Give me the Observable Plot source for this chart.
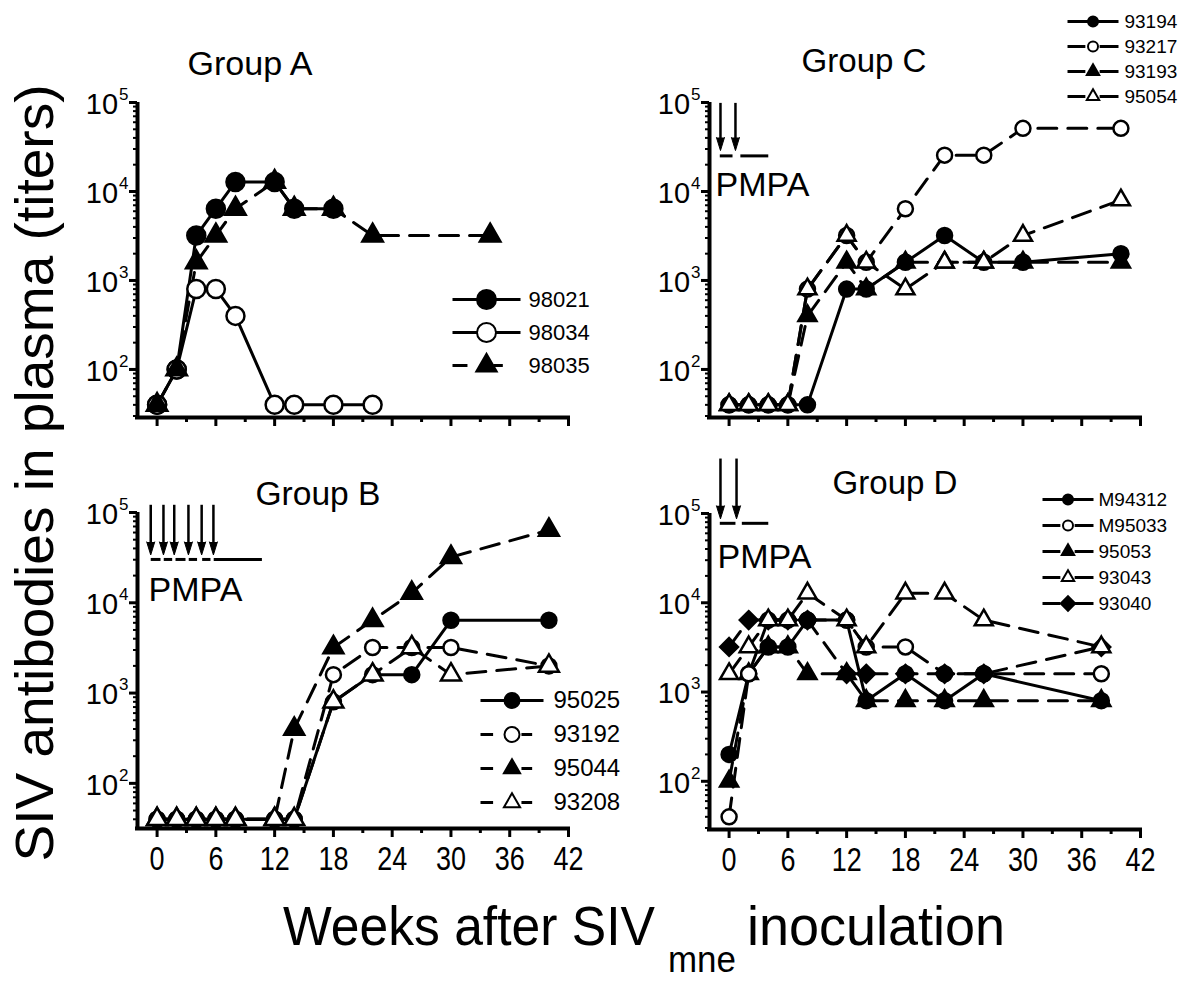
<!DOCTYPE html>
<html><head><meta charset="utf-8">
<script src="https://cdn.jsdelivr.net/npm/d3@7"></script>
<script src="https://cdn.jsdelivr.net/npm/@observablehq/plot@0.6"></script>
<style>
body{margin:0;background:#fff;}
#root{position:relative;width:1200px;height:982px;overflow:hidden;background:#fff;}
#root svg{position:absolute;overflow:visible;}
</style></head><body><div id="root"></div>
<script>
// ---------------- DATA ----------------
const majorWeeks = [0, 6, 12, 18, 24, 30, 36, 42];
const minorWeeks = [3, 9, 15, 21, 27, 33, 39];
const decadeTicks = [1e2, 1e3, 1e4, 1e5];
const minorMultipliers = [2, 3, 4, 5, 6, 7, 8, 9];
const decades = [10, 100, 1000, 10000];

// Group A
const wA98021 = [0, 2, 4, 6, 8, 12, 14, 18];
const tA98021 = [40, 100, 3200, 6400, 12800, 12800, 6400, 6400];
const wA98034 = [0, 2, 4, 6, 8, 12, 14, 18, 22];
const tA98034 = [40, 100, 800, 800, 400, 40, 40, 40, 40];
const wA98035 = [0, 2, 4, 6, 8, 12, 14, 18, 22, 34];
const tA98035 = [40, 100, 1600, 3200, 6400, 12800, 6400, 6400, 3200, 3200];

// Group B
const wB = [0, 2, 4, 6, 8, 12, 14, 18, 22, 26, 30, 40];
const tB95025 = [40, 40, 40, 40, 40, 40, 40, 800, 1600, 1600, 6400, 6400];
const tB93192 = [40, 40, 40, 40, 40, 40, 40, 1600, 3200, 3200, 3200, 2000];
const tB95044 = [40, 40, 40, 40, 40, 40, 400, 3200, 6400, 12800, 32000, 64000];
const tB93208 = [40, 40, 40, 40, 40, 40, 40, 800, 1600, 3200, 1600, 2000];

// Group C
const wC = [0, 2, 4, 6, 8, 12, 14, 18, 22, 26, 30, 40];
const tC93194 = [40, 40, 40, 40, 40, 800, 800, 1600, 3200, 1600, 1600, 2000];
const tC93217 = [40, 40, 40, 40, 800, 3200, 1600, 6400, 25600, 25600, 51200, 51200];
const tC93193 = [40, 40, 40, 40, 400, 1600, 800, 1600, 1600, 1600, 1600, 1600];
const tC95054 = [40, 40, 40, 40, 800, 3200, 1600, 800, 1600, 1600, 3200, 8000];

// Group D
const wD = [0, 2, 4, 6, 8, 12, 14, 18, 22, 26, 38];
const tDM94312 = [200, 1600, 3200, 3200, 6400, 6400, 800, 1600, 800, 1600, 800];
const tDM95033 = [40, 1600, 6400, 6400, 6400, 6400, 3200, 3200, 1600, 1600, 1600];
const tD95053 = [100, 1600, 3200, 3200, 1600, 1600, 800, 800, 800, 800, 800];
const tD93043 = [1600, 3200, 6400, 6400, 12800, 6400, 3200, 12800, 12800, 6400, 3200];
const tD93040 = [3200, 6400, 6400, 6400, 6400, 1600, 1600, 1600, 1600, 1600, 3200];

// PMPA annotations (weeks, titer levels)
const pmpaArrowsB = [-0.65, 0.65, 1.75, 3.2, 4.55, 5.75];
const pmpaSegsB = [[-0.65, 0.35], [0.68, 1.54], [1.88, 2.9], [3.23, 4.08], [4.6, 5.45], [5.78, 10.7]];
const pmpaArrowsC = [-0.88, 0.65];
const pmpaSegsC = [[-0.95, 0.35], [1.15, 4.0]];
const pmpaArrowsD = [-0.88, 0.76];
const pmpaSegsD = [[-0.95, 0.65], [1.3, 4.0]];

// ---------------- STYLE / LAYOUT ----------------
const FONT = '"Liberation Sans", Arial, Helvetica, sans-serif';
const xDomain = [-2, 42];
const root = document.getElementById("root");

function mk(weeks, titers) { return weeks.map((w, i) => ({w, v: titers[i]})); }

const panels = [
  {
    id: "A", box: {left: 0, top: 0, width: 600, height: 440, mL: 137, mT: 102, mR: 32, mB: 23},
    yMin: Math.pow(10, 1.46), xLabels: false,
    series: [
      {name: "98021", data: mk(wA98021, tA98021), symbol: "circle", open: false, dashed: false, r: 9},
      {name: "98034", data: mk(wA98034, tA98034), symbol: "circle", open: true, dashed: false, r: 9},
      {name: "98035", data: mk(wA98035, tA98035), symbol: "triangle", open: false, dashed: true, r: 7.6}
    ],
    legend: {left: 452, top: 281.5, rowH: 33, lineLen: 68, font: 22, gap: 8, segs: [[0, 0.22], [0.6, 0.74]],
      r: {circle: 9.5, triangle: 7.6, diamond2: 8}}
  },
  {
    id: "B", box: {left: 0, top: 440, width: 600, height: 442, mL: 137, mT: 72, mR: 32, mB: 54},
    yMin: Math.pow(10, 1.5), xLabels: true,
    series: [
      {name: "95025", data: mk(wB, tB95025), symbol: "circle", open: false, dashed: false, r: 7.5},
      {name: "93192", data: mk(wB, tB93192), symbol: "circle", open: true, dashed: true, r: 7.5},
      {name: "95044", data: mk(wB, tB95044), symbol: "triangle", open: false, dashed: true, r: 7.4},
      {name: "93208", data: mk(wB, tB93208), symbol: "triangle", open: true, dashed: true, r: 7.4}
    ],
    legend: {left: 480, top: 681.7, rowH: 34.7, lineLen: 63, font: 24, gap: 10, segs: [[0, 0.2], [0.65, 0.82]],
      r: {circle: 7.5, triangle: 6, diamond2: 7}},
    pmpa: {arrows: pmpaArrowsB, top: Math.pow(10, 5.08), tip: Math.pow(10, 4.53), lineY: Math.pow(10, 4.48),
      segs: pmpaSegsB, textX: -0.88, textY: Math.pow(10, 4.14)}
  },
  {
    id: "C", box: {left: 600, top: 0, width: 600, height: 440, mL: 109, mT: 102, mR: 60, mB: 23},
    yMin: Math.pow(10, 1.46), xLabels: false,
    series: [
      {name: "93217", data: mk(wC, tC93217), symbol: "circle", open: true, dashed: true, r: 7.5},
      {name: "93194", data: mk(wC, tC93194), symbol: "circle", open: false, dashed: false, r: 7.5},
      {name: "93193", data: mk(wC, tC93193), symbol: "triangle", open: false, dashed: true, r: 6.7},
      {name: "95054", data: mk(wC, tC95054), symbol: "triangle", open: true, dashed: true, r: 6.7}
    ],
    legendOrder: ["93194", "93217", "93193", "95054"],
    legend: {left: 1067, top: 8.3, rowH: 25.3, lineLen: 51, font: 19, gap: 6, segs: [[0, 0.35], [0.63, 1]],
      r: {circle: 5, triangle: 4.6, diamond2: 6.5}},
    pmpa: {arrows: pmpaArrowsC, top: Math.pow(10, 4.99), tip: Math.pow(10, 4.46), lineY: Math.pow(10, 4.40),
      segs: pmpaSegsC, textX: -1.39, textY: Math.pow(10, 4.07)}
  },
  {
    id: "D", box: {left: 600, top: 440, width: 600, height: 442, mL: 109, mT: 73, mR: 60, mB: 53},
    yMin: Math.pow(10, 1.46), xLabels: true,
    series: [
      {name: "95053", data: mk(wD, tD95053), symbol: "triangle", open: false, dashed: true, r: 6.7},
      {name: "M94312", data: mk(wD, tDM94312), symbol: "circle", open: false, dashed: false, r: 7.5},
      {name: "M95033", data: mk(wD, tDM95033), symbol: "circle", open: true, dashed: true, r: 7.5},
      {name: "93040", data: mk(wD, tD93040), symbol: "diamond2", open: false, dashed: true, r: 8},
      {name: "93043", data: mk(wD, tD93043), symbol: "triangle", open: true, dashed: true, r: 6.7}
    ],
    legendOrder: ["M94312", "M95033", "95053", "93043", "93040"],
    legend: {left: 1042, top: 484.9, rowH: 26.25, lineLen: 51, font: 19, gap: 5, segs: [[0, 0.35], [0.63, 1]],
      r: {circle: 5, triangle: 4.6, diamond2: 6.5}},
    pmpa: {arrows: pmpaArrowsD, top: Math.pow(10, 5.61), tip: Math.pow(10, 4.94), lineY: Math.pow(10, 4.89),
      segs: pmpaSegsD, textX: -1.18, textY: Math.pow(10, 4.515)}
  }
];

function place(svg, left, top) {
  svg.style.left = left + "px";
  svg.style.top = top + "px";
  root.appendChild(svg);
}

function makePanel(p) {
  const b = p.box;
  const minorTiters = minorMultipliers.flatMap(m => decades.map(d => m * d)).filter(v => v >= p.yMin && v <= 1e5);
  const marks = [
    Plot.axisY({ticks: minorTiters, tickSize: 4, strokeWidth: 2, tickFormat: () => "", label: null}),
    Plot.axisY({ticks: decadeTicks, tickSize: 8, strokeWidth: 3, tickFormat: () => "", label: null}),
    Plot.axisY({ticks: decadeTicks, tickSize: 0, tickPadding: 9, fontSize: 29, fontFamily: FONT,
      tickFormat: d => String(Math.round(Math.log10(d))), label: null}),
    Plot.axisX({ticks: minorWeeks, tickSize: 5, strokeWidth: 3, tickFormat: () => "", label: null}),
    Plot.axisX({ticks: majorWeeks, tickSize: 9, strokeWidth: 3, tickPadding: 8, fontSize: 34, fontFamily: FONT,
      tickFormat: p.xLabels ? (d => String(d)) : (() => ""), label: null}),
    Plot.ruleX([xDomain[0]], {y1: p.yMin, y2: 1e5, stroke: "black", strokeWidth: 4}),
    Plot.ruleY([p.yMin], {x1: xDomain[0], x2: xDomain[1], stroke: "black", strokeWidth: 4, strokeLinecap: "square"})
  ];
  for (const s of p.series) {
    marks.push(Plot.line(s.data, {x: "w", y: "v", stroke: "black", strokeWidth: 3,
      strokeDasharray: s.dashed ? "19,11" : null}));
  }
  for (const s of p.series) {
    marks.push(Plot.dot(s.data, {x: "w", y: "v", symbol: s.symbol, r: s.r,
      fill: s.open ? "white" : "black", stroke: "black", strokeWidth: 2.5}));
  }
  if (p.pmpa) {
    const a = p.pmpa;
    marks.push(Plot.ruleX(a.arrows, {x: d => d, y1: a.top, y2: a.tip, insetBottom: 8,
      stroke: "black", strokeWidth: 2.5}));
    marks.push(Plot.vector(a.arrows, {x: d => d, y: a.tip, length: 13, rotate: 180, shape: "spike",
      anchor: "end", r: 4, fill: "black", stroke: "black", strokeWidth: 1}));
    marks.push(Plot.link(a.segs, {x1: d => d[0], x2: d => d[1], y1: a.lineY, y2: a.lineY,
      stroke: "black", strokeWidth: 3}));
    marks.push(Plot.text(["PMPA"], {x: a.textX, y: a.textY, text: d => d, textAnchor: "start",
      fontSize: 34, fontFamily: FONT, fill: "black"}));
  }
  const svg = Plot.plot({
    width: b.width, height: b.height,
    marginLeft: b.mL, marginTop: b.mT, marginRight: b.mR, marginBottom: b.mB,
    x: {domain: xDomain},
    y: {type: "log", domain: [p.yMin, 1e5]},
    style: {fontFamily: FONT, background: "transparent", overflow: "visible", color: "black"},
    marks
  });
  // superscript exponents on y tick labels: 10^k
  d3.select(svg).selectAll('g[aria-label="y-axis tick label"] text').each(function () {
    const e = this.textContent;
    if (!e) return;
    const t = d3.select(this);
    t.text(null);
    t.append("tspan").attr("dy", 2).text("10");
    t.append("tspan").attr("dx", 1).attr("dy", -14).attr("font-size", 17).text(e);
  });
  // condensed x tick labels
  d3.select(svg).selectAll('g[aria-label="x-axis tick label"] text').each(function () {
    const s = this.textContent;
    if (!s) return;
    d3.select(this).attr("textLength", 15 * s.length).attr("lengthAdjust", "spacingAndGlyphs");
  });
  place(svg, b.left, b.top);
}

function makeLegend(p) {
  const L = p.legend;
  const order = p.legendOrder || p.series.map(s => s.name);
  const rows = order.map(n => p.series.find(s => s.name === n));
  const n = rows.length;
  const segs = [];
  for (const s of rows) {
    if (s.dashed) for (const g of L.segs) segs.push({name: s.name, a: g[0], b: g[1]});
    else segs.push({name: s.name, a: 0, b: 1});
  }
  const marks = [
    Plot.link(segs, {x1: "a", x2: "b", y1: "name", y2: "name", stroke: "black", strokeWidth: 3})
  ];
  for (const s of rows) {
    marks.push(Plot.dot([s], {x: () => 0.5, y: "name", symbol: s.symbol, r: L.r[s.symbol],
      fill: s.open ? "white" : "black", stroke: "black", strokeWidth: 2}));
  }
  marks.push(Plot.text(rows, {x: () => 1, y: "name", text: "name", dx: L.gap, textAnchor: "start",
    fontSize: L.font, fontFamily: FONT, fill: "black"}));
  const svg = Plot.plot({
    width: L.lineLen + 100, height: L.rowH * n,
    marginLeft: 0, marginRight: 100, marginTop: 0, marginBottom: 0,
    x: {domain: [0, 1], axis: null},
    y: {type: "point", domain: order, axis: null},
    style: {fontFamily: FONT, background: "transparent", overflow: "visible"},
    marks
  });
  place(svg, L.left, L.top);
}

for (const p of panels) { makePanel(p); makeLegend(p); }

// ---------------- TITLES ----------------
const over = d3.select(root).append("svg").attr("width", 1200).attr("height", 982)
  .style("left", "0px").style("top", "0px").style("font-family", FONT);

const groupTitles = [
  {text: "Group A", x: 250, y: 75},
  {text: "Group B", x: 318, y: 505},
  {text: "Group C", x: 864, y: 72},
  {text: "Group D", x: 895, y: 494}
];
over.selectAll("text.gt").data(groupTitles).join("text").attr("class", "gt")
  .attr("x", d => d.x).attr("y", d => d.y).attr("text-anchor", "middle")
  .attr("font-size", 34).attr("textLength", 125).attr("lengthAdjust", "spacingAndGlyphs").text(d => d.text);

over.append("text").attr("transform", "translate(53,473) rotate(-90)")
  .attr("text-anchor", "middle").attr("font-size", 53)
  .attr("textLength", 777).attr("lengthAdjust", "spacingAndGlyphs")
  .text("SIV antibodies in plasma (titers)");

over.append("text").attr("x", 283).attr("y", 945).attr("font-size", 55)
  .attr("textLength", 372).attr("lengthAdjust", "spacingAndGlyphs").text("Weeks after SIV");
over.append("text").attr("x", 668).attr("y", 972).attr("font-size", 36)
  .attr("textLength", 68).attr("lengthAdjust", "spacingAndGlyphs").text("mne");
over.append("text").attr("x", 747).attr("y", 945).attr("font-size", 55)
  .attr("textLength", 258).attr("lengthAdjust", "spacingAndGlyphs").text("inoculation");
</script></body></html>
